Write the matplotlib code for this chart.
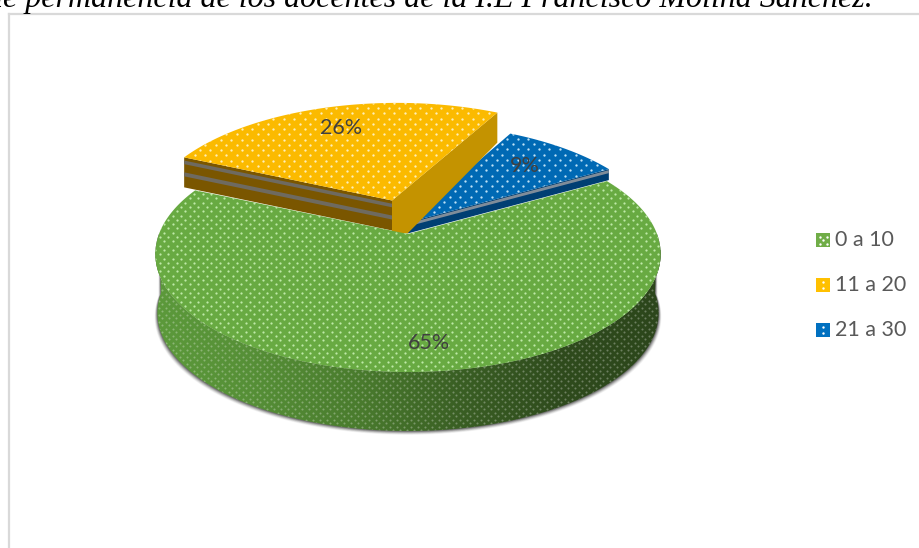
import numpy as np
import matplotlib
matplotlib.use("Agg")
import matplotlib.pyplot as plt
from matplotlib.colors import LinearSegmentedColormap
from matplotlib.patches import Polygon, Rectangle

# ---- data ----
categories = ["0 a 10", "11 a 20", "21 a 30"]
values = [65, 26, 9]
title_text = "de permanencia de los docentes de la I.E Francisco Molina Sánchez."

# ---- style ----
top_colors = ["#68AA42", "#FBBA00", "#0069B4"]
legend_colors = ["#70AD47", "#FFC000", "#0070C0"]
wall_colors = ["#4F7A32", "#7A5600", "#003F73"]
dot_colors = ["#C4EDAE", "#FFF3C4", "#C8E8FA"]
W, H = 919, 548
cx, cy, A, B, K = 408.0, 234.0, 249.0, 114.7, 0.169
start_deg = 30.0


def project(theta):
    u, v = np.cos(theta), np.sin(theta)
    w = 1 + K * v
    return cx + A * u / w, cy - B * v / w


def arc(a0, a1, n=160):
    x, y = project(np.radians(np.linspace(a0, a1, n)))
    return np.column_stack([x, y])


fig = plt.figure(figsize=(W / 100, H / 100), dpi=100)
ax = fig.add_axes([0, 0, 1, 1])

# slice angles come from the values, clockwise from the start angle
sweeps = np.array(values) / sum(values) * 360.0
a0 = start_deg
bounds = []
for s in sweeps:
    bounds.append((a0, a0 - s))
    a0 -= s
g, y_, b = bounds


def dots(poly, spacing, size, color, z, alpha=0.95):
    xs, ys = poly[:, 0], poly[:, 1]
    gx = np.arange(xs.min() - spacing, xs.max() + spacing, spacing)
    gy = np.arange(ys.min() - spacing, ys.max() + spacing, spacing / 2)
    X, Y = np.meshgrid(gx, gy)
    X = X.copy()
    X[1::2] += spacing / 2
    clip = Polygon(poly, closed=True, transform=ax.transData)
    sc = ax.scatter(X.ravel(), Y.ravel(), s=size, c=color, linewidths=0,
                    zorder=z, alpha=alpha)
    sc.set_clip_path(clip)


frame_c = "#D9D9D9"
ax.plot([8.5, 8.5], [H, 14], color=frame_c, lw=1.6, zorder=1)
ax.plot([8.5, W], [14, 14], color=frame_c, lw=1.6, zorder=1)

# ---- green slice: shadow, side, top ----
depth = 59
rim = arc(g[0], g[1], 240)
full = arc(0, -180, 240)
lower = full.copy()
lower[:, 1] += depth
lower[:, 0] = cx + (lower[:, 0] - cx) * 0.992
side = np.vstack([full, lower[::-1]])
for i, al in zip(range(7, 0, -1), [.04, .06, .08, .10, .13, .16, .20]):
    sh = lower.copy()
    sh[:, 0] = cx + (sh[:, 0] - cx) * (1 + i * 0.0016)
    sh[:, 1] = sh[:, 1] + i * 0.55
    ax.add_patch(Polygon(np.vstack([full, sh[::-1]]), closed=True, fc="#000000",
                         ec="none", alpha=al, zorder=2))

side_cmap = LinearSegmentedColormap.from_list(
    "side", ["#5C9A3B", "#568F37", "#4A7C2E", "#3A5F24", "#2F4B1D", "#2C461B"])
im = ax.imshow(np.linspace(0, 1, 256)[None, :], cmap=side_cmap, aspect="auto",
               extent=(150, 665, 440, 250), zorder=3, interpolation="bilinear")
im.set_clip_path(Polygon(side, closed=True, transform=ax.transData))
dots(side, 7.0, 2.2, "#FFFFFF", 3.4, 0.30)

green_top = np.vstack([[[cx, cy]], rim])
ax.add_patch(Polygon(green_top, closed=True, fc=top_colors[0], ec="none", zorder=8))
dots(green_top, 8.6, 2.6, dot_colors[0], 8.2)

# ---- yellow slice ----
yd = np.array([-11.0, -33.0])
y_apex = np.array([392.0, 200.5])
y_arc = arc(y_[0], y_[1]) + yd
y_depth = 30
wall_l = np.array([y_arc[0], y_apex, y_apex + [0, y_depth], y_arc[0] + [0, y_depth]])
ax.add_patch(Polygon(wall_l, closed=True, fc=wall_colors[1], ec="none", zorder=4))
for f0, f1 in [(3.2, 6.8), (15.0, 19.0)]:
    ax.add_patch(Polygon([y_arc[0] + [0, f0], y_apex + [0, f0], y_apex + [0, f1],
                          y_arc[0] + [0, f1]], closed=True, fc="#6E6A60", ec="none", zorder=4.2))
wall_r = np.array([y_apex, y_arc[-1], y_arc[-1] + [0, y_depth],
                   [407.5, 233.5], y_apex + [0, 32]])
ax.add_patch(Polygon(wall_r, closed=True, fc="#C49300", ec="none", zorder=7))
y_top = np.vstack([[y_apex], y_arc])
ax.add_patch(Polygon(y_top, closed=True, fc=top_colors[1], ec="none", zorder=7.5))
dots(y_top, 10.5, 2.8, dot_colors[1], 7.6)

# ---- blue slice ----
bd = np.array([2.0, -12.0])
b_apex = np.array([407.5, 222.5])
b_arc = arc(b[0], b[1]) + bd
b_depth = 11
wall_b = np.array([b_apex, b_arc[-1], b_arc[-1] + [0, b_depth], b_apex + [0, b_depth]])
ax.add_patch(Polygon(wall_b, closed=True, fc=wall_colors[2], ec="none", zorder=5))
ax.add_patch(Polygon([b_apex + [0, 1], b_arc[-1] + [0, 1], b_arc[-1] + [0, 4],
                      b_apex + [0, 4]], closed=True, fc="#7F8C99", ec="none", zorder=5.2))
b_top = np.vstack([[b_apex], b_arc])
ax.add_patch(Polygon(b_top, closed=True, fc=top_colors[2], ec="none", zorder=5.5))
dots(b_top, 10.5, 2.8, dot_colors[2], 5.6)

# ---- data labels ----
lab_c = "#404040"
fam = ["Lato", "DejaVu Sans"]
lab_pos = [(429, 343), (341, 128), (525, 166)]
for val, (lx, ly) in zip(values, lab_pos):
    ax.text(lx, ly, f"{val}%", fontsize=15.5, color=lab_c, ha="center", va="center",
            family=fam, zorder=12)

# ---- legend ----
leg_y = [240, 285, 330]
for name, col, ly in zip(categories, legend_colors, leg_y):
    ax.add_patch(Rectangle((816, ly - 7), 14, 14, fc=col, ec="none", zorder=10))
    ax.text(835, ly, name, fontsize=15.5, color="#595959", va="center", ha="left",
            family=fam, zorder=10)
    if name == categories[0]:
        xx, yy = np.meshgrid([819.5, 826.5], [ly - 3.5, ly + 3.5])
        xx = np.append(xx.ravel(), 823)
        yy = np.append(yy.ravel(), ly)
    else:
        xx, yy = np.array([823, 823]), np.array([ly - 3, ly + 3])
    ax.scatter(xx, yy, s=3, c="#FFFFFF", linewidths=0, zorder=11)

# ---- cropped caption ----
ax.text(-13.4, 7, title_text, fontsize=23, style="italic", color="#000000",
        family=["Liberation Serif"], ha="left", va="baseline", zorder=12)

ax.set_xlim(0, W)
ax.set_ylim(H, 0)
ax.axis("off")
fig.savefig("out.png", dpi=100)
